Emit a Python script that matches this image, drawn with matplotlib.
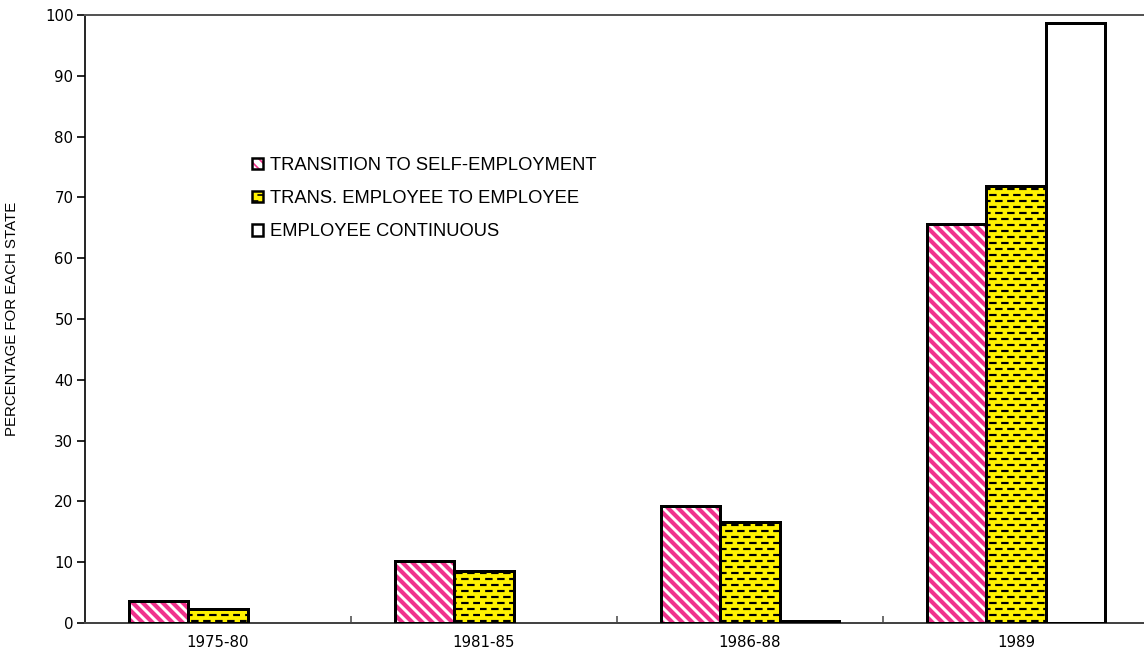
import numpy as np
import matplotlib
matplotlib.use("Agg")
import matplotlib.pyplot as plt
import matplotlib.hatch as mhatch
from matplotlib.path import Path
from matplotlib.patches import Patch
from matplotlib.legend_handler import HandlerTuple

periods = ["1975-80", "1981-85", "1986-88", "1989"]
series_names = ["TRANSITION TO SELF-EMPLOYMENT",
                "TRANS. EMPLOYEE TO EMPLOYEE",
                "EMPLOYEE CONTINUOUS"]
self_employment = [3.7, 10.2, 19.2, 65.7]
employee_to_employee = [2.3, 8.6, 16.6, 71.9]
employee_continuous = [0, 0, 0.3, 98.7]
y_ticks = list(range(0, 101, 10))

PINK = "#f0338d"
YELLOW = "#fff200"


# short staggered dashes instead of the plain horizontal hatch lines
class DashHatch(mhatch.HatchPatternBase):
    def __init__(self, hatch, density):
        self.cols = hatch.count("-") * 5
        self.rows = 2 * self.cols
        self.num_lines = self.rows * self.cols
        self.num_vertices = self.num_lines * 2

    def set_vertices_and_codes(self, vertices, codes):
        sx = 1.0 / self.cols
        sy = 1.0 / self.rows
        k = 0
        for r in range(self.rows):
            y = (r + 0.5) * sy
            shift = 0.5 * sx if r % 2 else 0.0
            for c in range(self.cols):
                x0 = c * sx + shift + 0.02 * sx
                vertices[k] = (x0, y)
                vertices[k + 1] = (x0 + 0.44 * sx, y)
                codes[k] = Path.MOVETO
                codes[k + 1] = Path.LINETO
                k += 2


mhatch._hatch_types = [DashHatch if t is mhatch.HorizontalHatch else t
                       for t in mhatch._hatch_types]

fig = plt.figure(figsize=(1144 / 120, 659 / 120), dpi=120)
ax = fig.add_axes([85 / 1144, 36 / 659, 1064 / 1144, 608 / 659])

x = np.arange(len(periods))
w = 0.222
edge_lw = 1.8


def draw_bars(xpos, values, face, hatch_color, hatch, hatch_lw):
    vals = np.array(values, dtype=float)
    vals[vals == 0] = np.nan
    if hatch:
        with plt.rc_context({"hatch.linewidth": hatch_lw, "hatch.color": hatch_color}):
            bars = ax.bar(xpos, vals, w, color=face, edgecolor=hatch_color,
                          hatch=hatch, linewidth=0, zorder=2)
            for b in bars:
                if hasattr(b, "set_hatch_linewidth"):
                    b.set_hatch_linewidth(hatch_lw)
    else:
        ax.bar(xpos, vals, w, color=face, linewidth=0, zorder=2)
    ax.bar(xpos, vals, w, fill=False, edgecolor="black", linewidth=edge_lw, zorder=3)


draw_bars(x - w, self_employment, "white", PINK, "\\\\\\\\", 2.5)
draw_bars(x, employee_to_employee, YELLOW, "black", "--", 1.3)
draw_bars(x + w, employee_continuous, "white", "black", None, 0)

ax.set_xlim(-0.5, len(periods) - 0.5)
ax.set_ylim(0, 100)
ax.set_yticks(y_ticks)
ax.set_xticks(x)
ax.set_xticklabels(periods)
ax.set_xticks(x[:-1] + 0.5, minor=True)
ax.tick_params(axis="x", which="major", length=0, pad=7, labelsize=9)
ax.tick_params(axis="x", which="minor", direction="in", length=4, width=1, color="#555555")
ax.tick_params(axis="y", direction="out", length=5, width=1, pad=2, labelsize=9)

ax.spines["right"].set_visible(False)
ax.spines["left"].set_linewidth(1)
ax.spines["top"].set_color("#555555")
ax.spines["top"].set_linewidth(1.2)
ax.spines["bottom"].set_color("#444444")
ax.spines["bottom"].set_linewidth(1.2)

ax.set_ylabel("PERCENTAGE FOR EACH STATE",
              family=["Liberation Sans Narrow", "Liberation Sans", "DejaVu Sans"],
              fontsize=9)
ax.yaxis.set_label_coords(-0.062, 0.5)

# legend swatches: fill/hatch with a black outline on top
handles = []
for face, hc, h in [("white", PINK, "\\\\\\\\"), (YELLOW, "black", "--"), ("white", "black", None)]:
    inner = Patch(facecolor=face, edgecolor=hc, hatch=h, linewidth=0)
    outer = Patch(fill=False, edgecolor="black", linewidth=1.5)
    handles.append((inner, outer))

ax.legend(handles, series_names, handler_map={tuple: HandlerTuple(ndivide=1)},
          loc="upper left", bbox_to_anchor=(252 / 1144, 1 - 157 / 659),
          bbox_transform=fig.transFigure, frameon=False, borderpad=0,
          borderaxespad=0, handlelength=0.6, handleheight=0.6,
          handletextpad=0.4, labelspacing=0.88,
          prop={"family": "Liberation Sans", "size": 11})

fig.savefig("out.png", dpi=120)
